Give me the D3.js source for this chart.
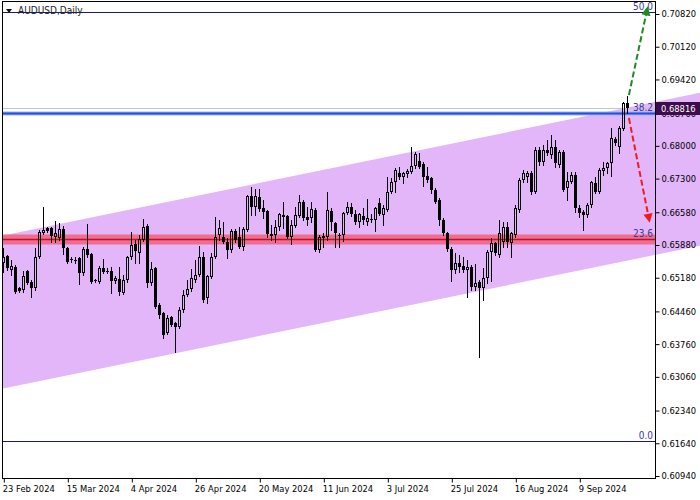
<!DOCTYPE html>
<html><head><meta charset="utf-8">
<script src="https://cdn.jsdelivr.net/npm/d3@7"></script>
<style>
html,body{margin:0;padding:0;background:#fff;}
svg{display:block;}
text{font-family:'DejaVu Sans Condensed','DejaVu Sans',sans-serif;}
</style></head><body>
<svg id="c" width="700" height="500"></svg>
<script>
const symbolTitle = "AUDUSD,Daily";
const opens = [
0.65494,0.65644,0.65345,0.65409,0.64960,0.64917,0.65323,0.65088,0.64960,0.65623,
0.66136,0.66243,0.66243,0.66050,0.66029,0.66221,0.65815,0.65580,0.65559,0.65601,
0.65280,0.65794,0.65687,0.65131,0.65088,0.65387,0.65323,0.65323,0.65110,0.65152,
0.64853,0.65131,0.65623,0.65901,0.65708,0.65987,0.66286,0.65067,0.65387,0.64597,
0.64425,0.63997,0.64340,0.64211,0.64126,0.64490,0.64810,0.64938,0.65131,0.65238,
0.65623,0.64746,0.65195,0.65623,0.66093,0.66050,0.65944,0.65773,0.66179,0.66050,
0.65837,0.66200,0.66927,0.66692,0.66906,0.66670,0.66606,0.66072,0.66093,0.66264,
0.66521,0.66499,0.66050,0.66286,0.66499,0.66799,0.66478,0.66456,0.66628,0.65773,
0.66029,0.66050,0.66606,0.66350,0.66093,0.66093,0.66563,0.66692,0.66542,0.66371,
0.66499,0.66371,0.66435,0.66414,0.66777,0.66521,0.66628,0.67013,0.67227,0.67419,
0.67334,0.67398,0.67441,0.67569,0.67676,0.67612,0.67355,0.67312,0.67056,0.66842,
0.66414,0.66136,0.65794,0.65345,0.65494,0.65430,0.65345,0.65409,0.64981,0.65088,
0.64960,0.65173,0.65730,0.65922,0.65666,0.65944,0.66264,0.65922,0.66093,0.66628,
0.67270,0.67334,0.67419,0.67013,0.67911,0.67654,0.67911,0.67804,0.67975,0.67590,
0.67868,0.67098,0.67227,0.67377,0.66670,0.66585,0.66521,0.66735,0.67205,0.67013,
0.67462,0.67526,0.67633,0.68146,0.67975,0.68360,0.68916];
const highs = [
0.65815,0.65666,0.65559,0.65452,0.64981,0.65323,0.65345,0.65131,0.65815,0.66200,
0.66692,0.66264,0.66264,0.66393,0.66350,0.66286,0.65837,0.65623,0.65623,0.65623,
0.65837,0.66328,0.65708,0.65152,0.65430,0.65580,0.65387,0.65409,0.65216,0.65409,
0.65238,0.65644,0.66157,0.65987,0.66093,0.66435,0.66328,0.65516,0.65409,0.64639,
0.64447,0.64383,0.64361,0.64233,0.64554,0.64917,0.65131,0.65366,0.65559,0.65858,
0.65730,0.65238,0.65708,0.66478,0.66414,0.66371,0.66029,0.66221,0.66221,0.66264,
0.66264,0.66949,0.67120,0.67077,0.67077,0.66842,0.66628,0.66307,0.66414,0.66563,
0.66799,0.66521,0.66414,0.66692,0.66949,0.66842,0.66692,0.66799,0.66670,0.66093,
0.66136,0.67013,0.66670,0.66371,0.66136,0.66585,0.66799,0.66777,0.66628,0.66563,
0.66670,0.66863,0.66542,0.66692,0.66884,0.66735,0.67334,0.67312,0.67526,0.67547,
0.67441,0.67505,0.67975,0.67868,0.67847,0.67654,0.67547,0.67334,0.67098,0.66884,
0.66456,0.66157,0.65837,0.65708,0.65666,0.65623,0.65559,0.65452,0.65473,0.65131,
0.65387,0.65773,0.66029,0.65944,0.66414,0.66371,0.66371,0.66157,0.66735,0.67312,
0.67484,0.67462,0.67462,0.67975,0.67975,0.68018,0.68125,0.68232,0.68125,0.67911,
0.67911,0.67441,0.67441,0.67441,0.66735,0.66628,0.66777,0.67248,0.67334,0.67526,
0.67654,0.67654,0.68382,0.68189,0.68424,0.68938,0.69066];
const lows = [
0.65302,0.65345,0.65238,0.64853,0.64874,0.64874,0.65045,0.64767,0.64917,0.65601,
0.66114,0.66157,0.65944,0.65944,0.65987,0.65687,0.65494,0.65516,0.65494,0.65045,
0.65238,0.65623,0.65067,0.65088,0.65067,0.65280,0.65280,0.64853,0.65067,0.64810,
0.64831,0.65088,0.65580,0.65494,0.65494,0.65965,0.64981,0.65024,0.64532,0.64318,
0.63890,0.63976,0.64147,0.63591,0.64104,0.64447,0.64789,0.64896,0.65088,0.65216,
0.64661,0.64639,0.65173,0.65601,0.65987,0.65922,0.65601,0.65730,0.65944,0.65815,
0.65773,0.66179,0.66521,0.66521,0.66606,0.66456,0.66050,0.65987,0.65944,0.66200,
0.66243,0.66029,0.65901,0.66264,0.66478,0.66414,0.66307,0.66371,0.65751,0.65730,
0.65837,0.65987,0.66200,0.65837,0.65837,0.65965,0.66542,0.66499,0.66328,0.66264,
0.66328,0.66307,0.66371,0.66179,0.66521,0.66307,0.66606,0.66991,0.67013,0.67291,
0.67205,0.67334,0.67419,0.67526,0.67526,0.67141,0.67227,0.66991,0.66777,0.66307,
0.66093,0.65751,0.65110,0.65280,0.65302,0.65302,0.64767,0.64917,0.64917,0.63485,
0.64704,0.65067,0.65110,0.65666,0.65623,0.65837,0.65837,0.65623,0.66050,0.66585,
0.67227,0.67227,0.66970,0.66991,0.67590,0.67590,0.67804,0.67740,0.67547,0.67547,
0.67034,0.66842,0.67205,0.66585,0.66478,0.66200,0.66478,0.66692,0.66991,0.66991,
0.67377,0.67419,0.67355,0.68018,0.67847,0.68339,0.68703];
const closes = [
0.65623,0.65387,0.65430,0.64874,0.64896,0.65216,0.65067,0.64960,0.65623,0.66157,
0.66200,0.66179,0.66072,0.66136,0.66221,0.65815,0.65516,0.65559,0.65552,0.65280,
0.65794,0.65666,0.65088,0.65110,0.65387,0.65302,0.65316,0.65110,0.65173,0.64874,
0.65131,0.65623,0.65880,0.65751,0.66007,0.66264,0.65067,0.65366,0.64554,0.64383,
0.63955,0.64318,0.64169,0.64126,0.64490,0.64810,0.64938,0.65173,0.65238,0.65623,
0.64704,0.65216,0.65623,0.66050,0.66243,0.65944,0.65773,0.66179,0.65987,0.65837,
0.66221,0.66927,0.66692,0.66927,0.66649,0.66585,0.66114,0.66114,0.66264,0.66542,
0.66478,0.66050,0.66307,0.66521,0.66799,0.66456,0.66414,0.66649,0.65773,0.66050,
0.66072,0.66628,0.66371,0.66136,0.66100,0.66563,0.66692,0.66542,0.66371,0.66542,
0.66414,0.66456,0.66440,0.66670,0.66542,0.66670,0.67013,0.67227,0.67484,0.67334,
0.67419,0.67462,0.67569,0.67826,0.67547,0.67334,0.67270,0.67056,0.66799,0.66414,
0.66136,0.65794,0.65345,0.65494,0.65409,0.65345,0.65409,0.64981,0.65067,0.64960,
0.65173,0.65730,0.65922,0.65708,0.66136,0.66264,0.65944,0.66136,0.66670,0.67270,
0.67419,0.67419,0.67013,0.67911,0.67654,0.67911,0.67847,0.67975,0.67633,0.67868,
0.67056,0.67248,0.67377,0.66670,0.66563,0.66521,0.66735,0.67227,0.67013,0.67484,
0.67526,0.67633,0.68168,0.68061,0.68382,0.68916,0.68816];

const dateLabels = ["23 Feb 2024","15 Mar 2024","4 Apr 2024","26 Apr 2024","20 May 2024",
                    "11 Jun 2024","3 Jul 2024","25 Jul 2024","16 Aug 2024","9 Sep 2024"];
const dateLabelBars = [0,16,32,48,64,80,96,112,128,144];
const priceTicks = [0.70820,0.70120,0.69420,0.68700,0.68000,0.67300,0.66580,0.65880,
                    0.65180,0.64460,0.63760,0.63060,0.62340,0.61640,0.60940];
const lastPrice = 0.68816;
const fibPrice0 = 0.61688, fibPrice100 = 0.80036;
const fibLevels = [0.0, 23.6, 38.2, 50.0];
const channelUpper = [[0, 0.66083], [150, 0.68713]];
const channelLower = [[0, 0.62811], [150, 0.65441]];
const greenArrow = [[156.4, 0.69088], [160.8, 0.70852]];
const redArrow = [[156.4, 0.68596], [161.3, 0.66489]];

const svg = d3.select("#c");
const W = 700, H = 500;
const L = 2, R = 655, T = 1, B = 478;
const x = d3.scaleLinear().domain([0, 156]).range([3.3, 627.3]);
const y = d3.scaleLinear().domain([0.60940, 0.70820]).range([476, 14]);

const defs = svg.append("defs");
defs.append("clipPath").attr("id","plot").append("rect").attr("x",L).attr("y",T).attr("width",R-L).attr("height",B-T);
defs.append("clipPath").attr("id","wide").append("rect").attr("x",L).attr("y",T).attr("width",W-L).attr("height",B-T);
function marker(id, color){
  defs.append("marker").attr("id",id).attr("viewBox","0 0 10 10").attr("refX",3).attr("refY",5)
    .attr("markerWidth",5.5).attr("markerHeight",4.6).attr("orient","auto")
    .append("path").attr("d","M0,0 L10,5 L0,10 z").attr("fill",color);
}
marker("mg","#1f8a24");
marker("mr","#f01c1c");

// channel
function lineAt(pts, i){ const [a,b]=pts; return a[1] + (b[1]-a[1])*(i-a[0])/(b[0]-a[0]); }
const iL = x.invert(L), iR = x.invert(W);
const chPoly = [[iL, lineAt(channelUpper,iL)],[iR, lineAt(channelUpper,iR)],[iR, lineAt(channelLower,iR)],[iL, lineAt(channelLower,iL)]];
svg.append("path").attr("clip-path","url(#wide)")
  .attr("d", d3.line().x(d=>x(d[0])).y(d=>y(d[1]))(chPoly)+"Z")
  .attr("fill","#e2b6f9");

const g = svg.append("g").attr("clip-path","url(#plot)");
const fibP = l => fibPrice0 + (fibPrice100-fibPrice0)*l/100;

// current price line
g.append("line").attr("x1",L).attr("x2",R).attr("y1",Math.round(y(lastPrice))+0.5).attr("y2",Math.round(y(lastPrice))+0.5)
  .attr("stroke","#c4c4c4").attr("stroke-width",1);

// fib levels
fibLevels.forEach(l=>{
  const yy = Math.round(y(fibP(l)))+0.5;
  if (l===23.6){
    g.append("rect").attr("x",L).attr("width",R-L).attr("y",yy-5).attr("height",10).attr("fill","#f2607e").attr("opacity",0.85);
    g.append("line").attr("x1",L).attr("x2",R).attr("y1",yy).attr("y2",yy).attr("stroke","#c0102c").attr("stroke-width",1.4);
  } else if (l===38.2){
    g.append("line").attr("x1",L).attr("x2",R).attr("y1",yy).attr("y2",yy).attr("stroke","#9db4f5").attr("stroke-width",4);
    g.append("line").attr("x1",L).attr("x2",R).attr("y1",yy).attr("y2",yy).attr("stroke","#1f4fe6").attr("stroke-width",2);
  } else {
    g.append("line").attr("x1",L).attr("x2",R).attr("y1",yy).attr("y2",yy).attr("stroke","#1c1c66").attr("stroke-width",1);
  }
  svg.append("text").attr("x",R-2).attr("y",yy-3).attr("text-anchor","end")
    .attr("font-size",10).attr("fill","#3a3a9a").text(l.toFixed(1));
});

// candles
const cg = g.append("g");
opens.forEach((o,i)=>{
  const c = closes[i], hi = highs[i], lo = lows[i];
  const cx = Math.round(x(i));
  const top = Math.round(y(Math.max(o,c))), bot = Math.round(y(Math.min(o,c)));
  const yh = Math.round(y(hi)), yl = Math.round(y(lo));
  const col = "#000";
  cg.append("line").attr("x1",cx+0.5).attr("x2",cx+0.5).attr("y1",yh).attr("y2",top).attr("stroke",col);
  cg.append("line").attr("x1",cx+0.5).attr("x2",cx+0.5).attr("y1",bot).attr("y2",yl+1).attr("stroke",col);
  if (c >= o){
    if (bot-top >= 2){
      cg.append("rect").attr("x",cx-0.5).attr("y",top+0.5).attr("width",2).attr("height",bot-top-1)
        .attr("fill","none").attr("stroke",col).attr("stroke-width",1);
    } else {
      cg.append("rect").attr("x",cx-1).attr("y",top).attr("width",3).attr("height",Math.max(1,bot-top)).attr("fill",col);
    }
  } else {
    cg.append("rect").attr("x",cx-1).attr("y",top).attr("width",3).attr("height",Math.max(1,bot-top)).attr("fill",col);
  }
});

// arrows
function arrow(pts, color, id){
  svg.append("line").attr("x1",x(pts[0][0])).attr("y1",y(pts[0][1])).attr("x2",x(pts[1][0])).attr("y2",y(pts[1][1]))
    .attr("stroke",color).attr("stroke-width",2).attr("stroke-dasharray","6,3").attr("marker-end",`url(#${id})`);
}
arrow(greenArrow,"#1f8a24","mg");
arrow(redArrow,"#f01c1c","mr");

// frame
svg.append("rect").attr("x",L+0.5).attr("y",T+0.5).attr("width",R-L).attr("height",B-T)
  .attr("fill","none").attr("stroke","#000").attr("stroke-width",1);

// y axis
const ya = svg.append("g").attr("transform",`translate(${R+0.5},0)`)
  .call(d3.axisRight(y).tickValues(priceTicks).tickFormat(d3.format(".5f")).tickSize(4).tickPadding(2));
ya.select(".domain").remove();
ya.selectAll("text").attr("font-size",9.3).attr("fill","#000").style("font-family","'DejaVu Sans Condensed','DejaVu Sans',sans-serif");
ya.selectAll("line").attr("stroke","#000");

// price label
const py = Math.round(y(lastPrice));
svg.append("rect").attr("x",R+1).attr("y",py-6).attr("width",W-R-1).attr("height",13).attr("fill","#3d0c4a");
svg.append("text").attr("x",R+6).attr("y",py+4).attr("font-size",9.3).attr("fill","#fff").text(lastPrice.toFixed(5));

// x axis
const xa = svg.append("g").attr("transform",`translate(0,${B+0.5})`)
  .call(d3.axisBottom(x).tickValues(dateLabelBars).tickFormat((d,i)=>dateLabels[i]).tickSize(4).tickPadding(3));
xa.select(".domain").remove();
xa.selectAll("text").attr("text-anchor","start").attr("dx",-1).attr("font-size",9.3).attr("fill","#000")
  .style("font-family","'DejaVu Sans Condensed','DejaVu Sans',sans-serif");
xa.selectAll("line").attr("stroke","#000").attr("transform","translate(0.5,0)");

// title
svg.append("path").attr("d","M6,9 L12,9 L9,13 Z").attr("fill","#111");
svg.append("text").attr("x",18).attr("y",14).attr("font-size",10).attr("fill","#222").text(symbolTitle);
</script>
</body></html>
